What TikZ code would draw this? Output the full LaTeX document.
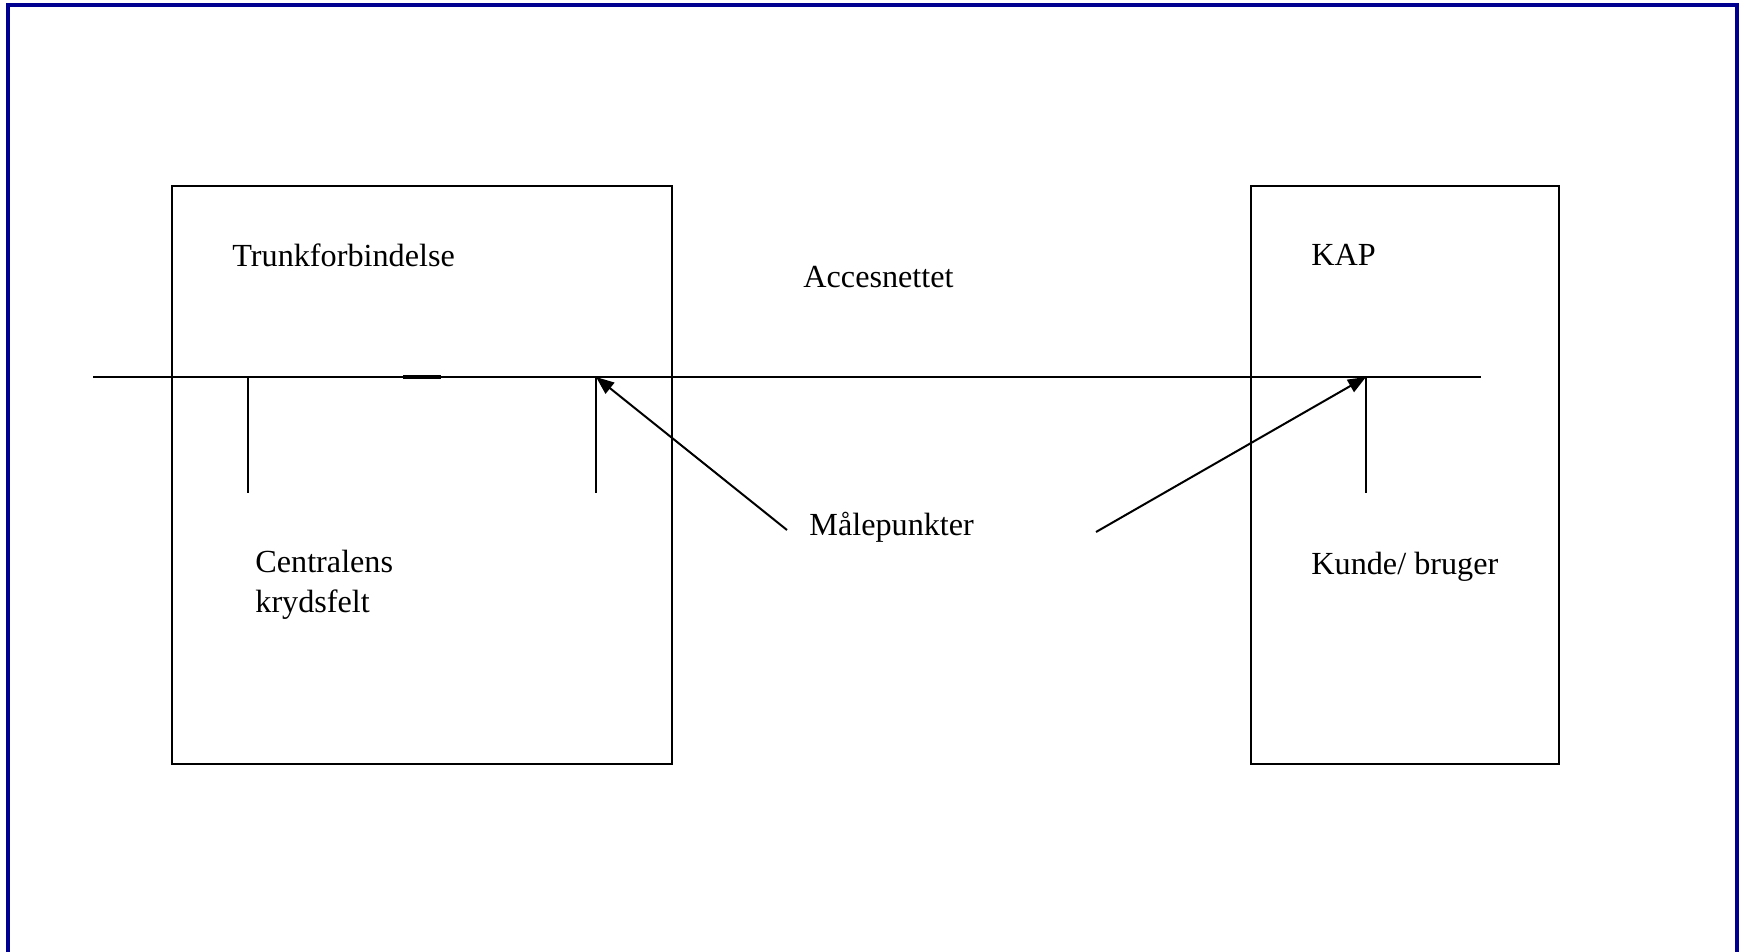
\documentclass[tikz,border=0pt]{standalone}
\usepackage{fontspec}
\setmainfont{Liberation Serif}
\usetikzlibrary{arrows.meta}
\definecolor{frameblue}{HTML}{000090}
\begin{document}
\begin{tikzpicture}[x=0.5pt,y=-0.5pt,
  lbl/.style={anchor=base west,inner sep=0pt,font=\fontsize{16.1pt}{20pt}\selectfont},
  boxline/.style={draw=black,line width=1pt},
  pointer/.style={draw=black,line width=1pt,-{Triangle[length=9pt,width=7pt]}}]
\useasboundingbox (0,0) rectangle (1744,952);
\fill[white] (0,0) rectangle (1744,952);
% outer frame
\draw[frameblue,line width=1.6pt] (8,960) -- (8,5) -- (1737,5) -- (1737,960);
% boxes
\node[boxline,minimum width=250pt,minimum height=289pt,inner sep=0pt,anchor=north west] (left) at (171,185) {};
\node[boxline,minimum width=154pt,minimum height=289pt,inner sep=0pt,anchor=north west] (right) at (1250,185) {};
% main line
\coordinate (lineL) at (93,377);
\coordinate (lineR) at (1481,377);
\draw[boxline] (lineL) -- (lineR);
\coordinate (segA) at (403,377);
\coordinate (segB) at (441,377);
\draw[black,line width=1.6pt] (segA) -- (segB);
% ticks
\coordinate (t1) at (248,377); \coordinate (t1b) at (248,493);
\coordinate (t2) at (596,377); \coordinate (t2b) at (596,493);
\coordinate (t3) at (1366,377); \coordinate (t3b) at (1366,493);
\draw[boxline] (t1) -- (t1b);
\draw[boxline] (t2) -- (t2b);
\draw[boxline] (t3) -- (t3b);
% labels
\node[lbl] (trunk) at (232,266) {Trunkforbindelse};
\node[lbl] (acces) at (803,287) {Accesnettet};
\node[lbl] (kap) at (1311,265) {KAP};
\node[lbl] (maale) at (809,535) {Målepunkter};
\node[lbl] (central) at (255,572) {Centralens};
\node[lbl] (kryds) at (255,612) {krydsfelt};
\node[lbl] (kunde) at (1311,574) {Kunde/ bruger};
% arrows
\coordinate (a1s) at (787,530);
\coordinate (a2s) at (1096,532);
\draw[pointer] (a1s) -- (t2);
\draw[pointer] (a2s) -- (t3);
\end{tikzpicture}
\end{document}
